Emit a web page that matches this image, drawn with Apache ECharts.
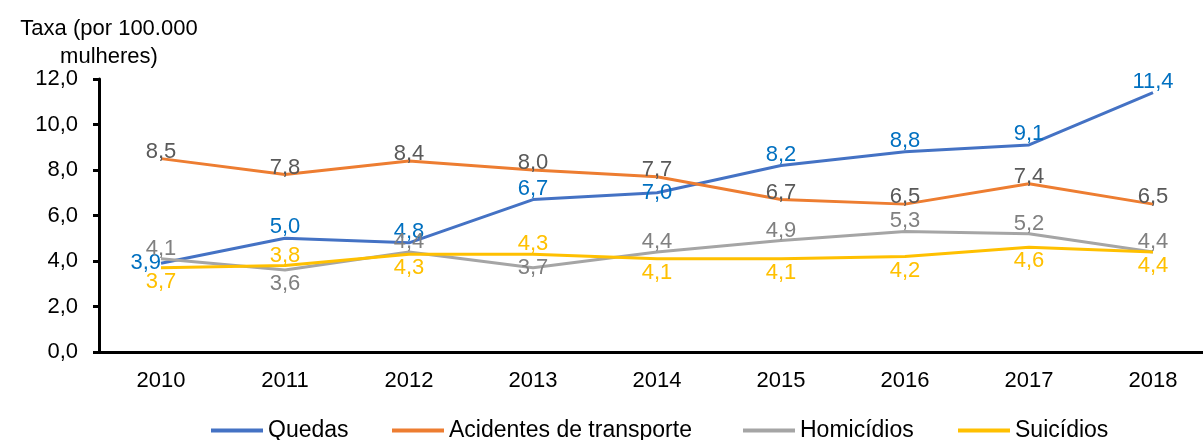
<!DOCTYPE html>
<html>
<head>
<meta charset="utf-8">
<script src="https://cdn.jsdelivr.net/npm/echarts@6/dist/echarts.min.js"></script>
<style>
  html, body { margin: 0; padding: 0; background: #fff; }
  #chart { width: 1203px; height: 440px; }
</style>
</head>
<body>
<div id="chart"></div>
<script>
  // dados
  var anos = ['2010', '2011', '2012', '2013', '2014', '2015', '2016', '2017', '2018'];
  var nomes = ['Quedas', 'Acidentes de transporte', 'Homicídios', 'Suicídios'];
  var quedas = [3.9, 5.0, 4.8, 6.7, 7.0, 8.2, 8.8, 9.1, 11.4];
  var acidentes = [8.5, 7.8, 8.4, 8.0, 7.7, 6.7, 6.5, 7.4, 6.5];
  var homicidios = [4.1, 3.6, 4.4, 3.7, 4.4, 4.9, 5.3, 5.2, 4.4];
  var suicidios = [3.7, 3.8, 4.3, 4.3, 4.1, 4.1, 4.2, 4.6, 4.4];

  // posição dos rótulos (como no Excel)
  var posQuedas = ['left', 'top', 'top', 'top', 'inside', 'top', 'top', 'top', 'top'];
  var posAcidentes = ['top', 'top', 'top', 'top', 'top', 'top', 'top', 'top', 'top'];
  var posHomicidios = ['top', 'bottom', 'top', 'inside', 'top', 'top', 'top', 'top', 'top'];
  var posSuicidios = ['bottom', 'top', 'bottom', 'top', 'bottom', 'bottom', 'bottom', 'bottom', 'bottom'];

  var fonte = '"Liberation Sans", Arial, sans-serif';

  function fmt(v) {
    return v.toFixed(1).replace('.', ',');
  }

  function serie(nome, valores, posicoes, cor, corRotulo, distTopo) {
    return {
      name: nome,
      type: 'line',
      symbol: 'circle',
      symbolSize: 0,
      lineStyle: { color: cor, width: 3 },
      itemStyle: { color: cor },
      data: valores.map(function (v, i) {
        var p = posicoes[i];
        var d = p === 'top' ? distTopo : (p === 'bottom' ? 3 : 0);
        return {
          value: v,
          label: { position: p, distance: d }
        };
      }),
      label: {
        show: true,
        color: corRotulo,
        fontSize: 22,
        fontFamily: fonte,
        formatter: function (p) { return fmt(p.value); }
      }
    };
  }

  // uma legenda por série, para acertar as posições
  var legendaX = [206, 387, 738, 953];
  var legendas = nomes.map(function (n, i) {
    return {
      bottom: -7,
      left: legendaX[i],
      icon: 'rect',
      itemWidth: 52,
      itemHeight: 4,
      textStyle: { fontSize: 23, fontFamily: fonte, color: '#000' },
      data: [n]
    };
  });

  var myChart = echarts.init(document.getElementById('chart'));
  myChart.setOption({
    animation: false,
    grid: { left: 99, top: 79, bottom: 88, width: 1116, outerBoundsMode: 'none' },
    legend: legendas,
    xAxis: {
      type: 'category',
      data: anos,
      axisLine: { lineStyle: { color: '#000', width: 3 } },
      axisTick: { length: 7, lineStyle: { color: '#000', width: 3 } },
      axisLabel: { color: '#000', fontSize: 22, fontFamily: fonte, margin: 18 }
    },
    yAxis: {
      type: 'value',
      min: 0,
      max: 12,
      interval: 2,
      name: 'Taxa (por 100.000\nmulheres)',
      nameLocation: 'end',
      nameGap: 8,
      nameMoveOverlap: false,
      nameTextStyle: {
        color: '#000', fontSize: 22, fontFamily: fonte,
        align: 'center', verticalAlign: 'bottom', lineHeight: 28,
        padding: [0, 0, 0, 20]
      },
      splitLine: { show: false },
      axisLine: { show: true, lineStyle: { color: '#000', width: 3 } },
      axisTick: { show: true, length: 6, lineStyle: { color: '#000', width: 3 } },
      axisLabel: {
        color: '#000', fontSize: 22, fontFamily: fonte, margin: 21,
        formatter: function (v) { return fmt(v); }
      }
    },
    series: [
      serie(nomes[0], quedas, posQuedas, '#4472C4', '#0070C0', 0),
      serie(nomes[1], acidentes, posAcidentes, '#ED7D31', '#595959', -4),
      serie(nomes[2], homicidios, posHomicidios, '#A5A5A5', '#808080', -1),
      serie(nomes[3], suicidios, posSuicidios, '#FFC000', '#FFC000', -1)
    ]
  });
</script>
</body>
</html>
